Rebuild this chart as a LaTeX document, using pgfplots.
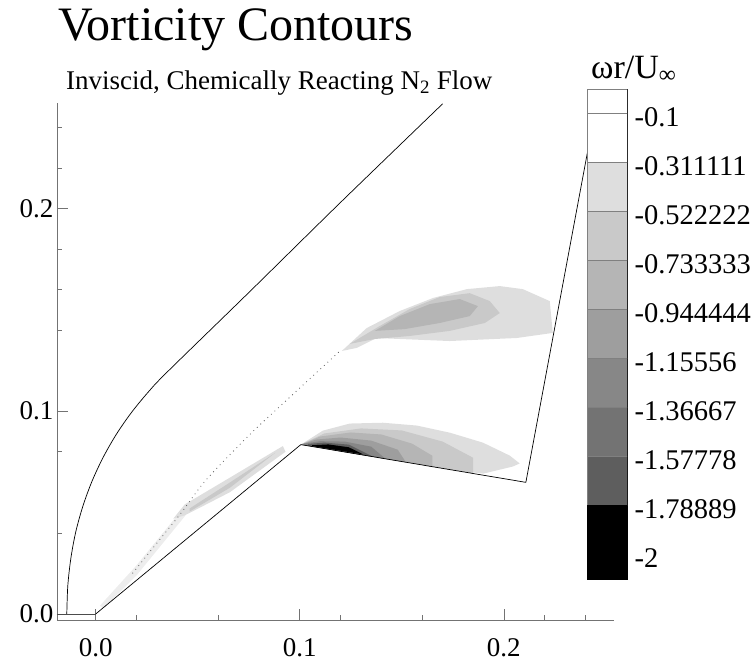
\documentclass[border=0pt]{standalone}
\usepackage{fontspec}
\setmainfont{Liberation Serif}
\usepackage{pgfplots}
\pgfplotsset{compat=1.18}
\colorlet{Lone}{black!13}
\colorlet{Ltwo}{black!21}
\colorlet{Lthree}{black!29}
\colorlet{Lfour}{black!38}
\colorlet{Lfive}{black!47}
\colorlet{Lsix}{black!55}
\colorlet{Lseven}{black!63}
\begin{document}
\begin{tikzpicture}[x=1pt,y=1pt]
\begin{axis}[
  at={(57pt,-620pt)}, anchor=south west,
  scale only axis, width=557pt, height=517pt,
  xmin=-0.019, xmax=0.254, ymin=-0.003, ymax=0.252,
  axis x line*=bottom, axis y line*=left,
  axis line style={draw=black!55, line width=0.6pt},
  xtick={0,0.1,0.2}, xticklabels={0.0,0.1,0.2},
  ytick={0,0.1,0.2}, yticklabels={0.0,0.1,0.2},
  minor xtick={0.02,0.06,0.12,0.16,0.22,0.24},
  minor ytick={0.04,0.08,0.14,0.16,0.18,0.22,0.24},
  tick align=inside, major tick length=11pt, minor tick length=5pt,
  tick style={draw=black!55, line width=0.6pt},
  tick label style={font=\fontsize{27}{32}\selectfont},
  xticklabel style={yshift=-15pt},
]
% faint band near nose
\addplot[fill=black!7, draw=none] coordinates {(0.002,0.004) (0.020,0.024) (0.044,0.0536) (0.044,0.0486) (0.020,0.019) (0.004,0.003)};
% lower-left band on cone
\addplot[fill=Lone, draw=none] coordinates {(0.038,0.0470) (0.0436,0.0540) (0.0657,0.0672) (0.0917,0.0828) (0.0930,0.0800) (0.0657,0.0600) (0.0436,0.0486)};
\addplot[fill=Ltwo, draw=none] coordinates {(0.046,0.0520) (0.0657,0.0648) (0.088,0.0795) (0.0657,0.0622) (0.046,0.0505)};
% upper blob
\addplot[fill=Lone, draw=none] coordinates {(0.1206,0.1297) (0.1328,0.1410) (0.1490,0.1494) (0.1652,0.1558) (0.1819,0.1602) (0.1980,0.1617) (0.2093,0.1602) (0.2225,0.1543) (0.2240,0.1386) (0.2064,0.1361) (0.1735,0.1346) (0.1490,0.1356) (0.1377,0.1361) (0.1279,0.1312)};
\addplot[fill=Ltwo, draw=none] coordinates {(0.1245,0.1332) (0.1392,0.1420) (0.1539,0.1504) (0.1686,0.1563) (0.1833,0.1582) (0.1931,0.1543) (0.1980,0.1484) (0.1907,0.1435) (0.1735,0.1396) (0.1539,0.1371) (0.1368,0.1356)};
\addplot[fill=Lthree, draw=none] coordinates {(0.1368,0.1396) (0.1490,0.1469) (0.1637,0.1528) (0.1784,0.1553) (0.1873,0.1518) (0.1833,0.1469) (0.1686,0.1435) (0.1515,0.1405)};
% lower blob
\addplot[fill=Lone, draw=none] coordinates {(0.1005,0.0835) (0.1113,0.0904) (0.1245,0.0939) (0.1407,0.0943) (0.1574,0.0929) (0.1735,0.0894) (0.1897,0.0845) (0.2029,0.0781) (0.2078,0.0742) (0.2044,0.0727) (0.190,0.0692) (0.175,0.0709) (0.1005,0.0835)};
\addplot[fill=Ltwo, draw=none] coordinates {(0.1005,0.0835) (0.112,0.0890) (0.130,0.0915) (0.150,0.0905) (0.170,0.0850) (0.185,0.0770) (0.185,0.0693) (0.1005,0.0835)};
\addplot[fill=Lthree, draw=none] coordinates {(0.1005,0.0835) (0.110,0.0875) (0.125,0.0895) (0.140,0.0885) (0.155,0.0840) (0.165,0.0780) (0.165,0.0726) (0.1005,0.0835)};
\addplot[fill=Lfour, draw=none] coordinates {(0.1005,0.0835) (0.108,0.0860) (0.120,0.0870) (0.135,0.0855) (0.148,0.0810) (0.152,0.0748) (0.1005,0.0835)};
\addplot[fill=Lfive, draw=none] coordinates {(0.102,0.0840) (0.110,0.0852) (0.122,0.0850) (0.135,0.0825) (0.142,0.0765) (0.102,0.0833)};
\addplot[fill=Lseven, draw=none] coordinates {(0.104,0.0838) (0.112,0.0845) (0.124,0.0835) (0.136,0.0775) (0.104,0.0830)};
\addplot[fill=black, draw=none] coordinates {(0.106,0.0832) (0.114,0.0836) (0.124,0.0822) (0.131,0.0787) (0.106,0.0828)};
% faint dotted contour trace
\addplot[black!65, line width=0.8pt, dash pattern=on 0.8pt off 4pt, smooth] coordinates {(0.018,0.020) (0.030,0.035) (0.042,0.050) (0.054,0.066) (0.075,0.088) (0.092,0.104) (0.106,0.117) (0.120,0.130)};
% shock
\addplot[black, line width=0.7pt, smooth, tension=0.5] coordinates {(-0.0142,0.000) (-0.0137,0.0140) (-0.0122,0.0275) (-0.0098,0.0405) (-0.0063,0.0532) (-0.0019,0.0653) (0.0035,0.0770) (0.0099,0.0883) (0.0173,0.0991) (0.0257,0.1094) (0.0350,0.1193) (0.0755,0.1590) (0.1200,0.2030) (0.1700,0.2516)};
% symmetry line and body
\addplot[black!70, line width=0.5pt] coordinates {(-0.019,0.0) (0.0,0.0)};
\addplot[black, line width=0.7pt] coordinates {(0.0,0.0) (0.1005,0.0835) (0.2108,0.0649) (0.2455,0.252)};
\end{axis}

\begin{axis}[
  at={(587pt,-579pt)}, anchor=south west,
  scale only axis, width=40pt, height=490pt,
  xmin=0, xmax=1, ymin=-2.1056, ymax=0.0056,
  xtick=\empty,
  ytick={-0.1,-0.311111,-0.522222,-0.733333,-0.944444,-1.15556,-1.36667,-1.57778,-1.78889,-2},
  yticklabels={-0.1,-0.311111,-0.522222,-0.733333,-0.944444,-1.15556,-1.36667,-1.57778,-1.78889,-2},
  yticklabel pos=right, major tick length=0pt,
  yticklabel style={font=\fontsize{28.5}{33}\selectfont, xshift=4pt, yshift=-4pt},
  axis line style={black, line width=0.5pt},
  axis background/.style={fill=white},
]
\addplot[fill=white, draw=black!50, line width=0.4pt] coordinates {(0,0.0056) (1,0.0056) (1,-0.1) (0,-0.1) (0,0.0056)};
\addplot[fill=white, draw=black!50, line width=0.4pt] coordinates {(0,-0.1) (1,-0.1) (1,-0.311111) (0,-0.311111) (0,-0.1)};
\addplot[fill=Lone, draw=black!50, line width=0.4pt] coordinates {(0,-0.311111) (1,-0.311111) (1,-0.522222) (0,-0.522222) (0,-0.311111)};
\addplot[fill=Ltwo, draw=black!50, line width=0.4pt] coordinates {(0,-0.522222) (1,-0.522222) (1,-0.733333) (0,-0.733333) (0,-0.522222)};
\addplot[fill=Lthree, draw=black!50, line width=0.4pt] coordinates {(0,-0.733333) (1,-0.733333) (1,-0.944444) (0,-0.944444) (0,-0.733333)};
\addplot[fill=Lfour, draw=black!50, line width=0.4pt] coordinates {(0,-0.944444) (1,-0.944444) (1,-1.15556) (0,-1.15556) (0,-0.944444)};
\addplot[fill=Lfive, draw=black!50, line width=0.4pt] coordinates {(0,-1.15556) (1,-1.15556) (1,-1.36667) (0,-1.36667) (0,-1.15556)};
\addplot[fill=Lsix, draw=black!50, line width=0.4pt] coordinates {(0,-1.36667) (1,-1.36667) (1,-1.57778) (0,-1.57778) (0,-1.36667)};
\addplot[fill=Lseven, draw=black!50, line width=0.4pt] coordinates {(0,-1.57778) (1,-1.57778) (1,-1.78889) (0,-1.78889) (0,-1.57778)};
\addplot[fill=black, draw=black, line width=0.4pt] coordinates {(0,-1.78889) (1,-1.78889) (1,-2.1056) (0,-2.1056) (0,-1.78889)};
\end{axis}

\node[anchor=base west, inner sep=0pt, font=\fontsize{48}{56}\selectfont] at (58,-41) {Vorticity Contours};
\node[anchor=base west, inner sep=0pt, font=\fontsize{27}{32}\selectfont] at (66,-90) {Inviscid, Chemically Reacting N\textsubscript{2} Flow};
\node[anchor=base west, inner sep=0pt, font=\fontsize{34}{40}\selectfont] at (591,-79) {ωr/U\textsubscript{∞}};

\pgfresetboundingbox
\path[use as bounding box] (0,0) rectangle (752,-663);
\end{tikzpicture}
\end{document}
